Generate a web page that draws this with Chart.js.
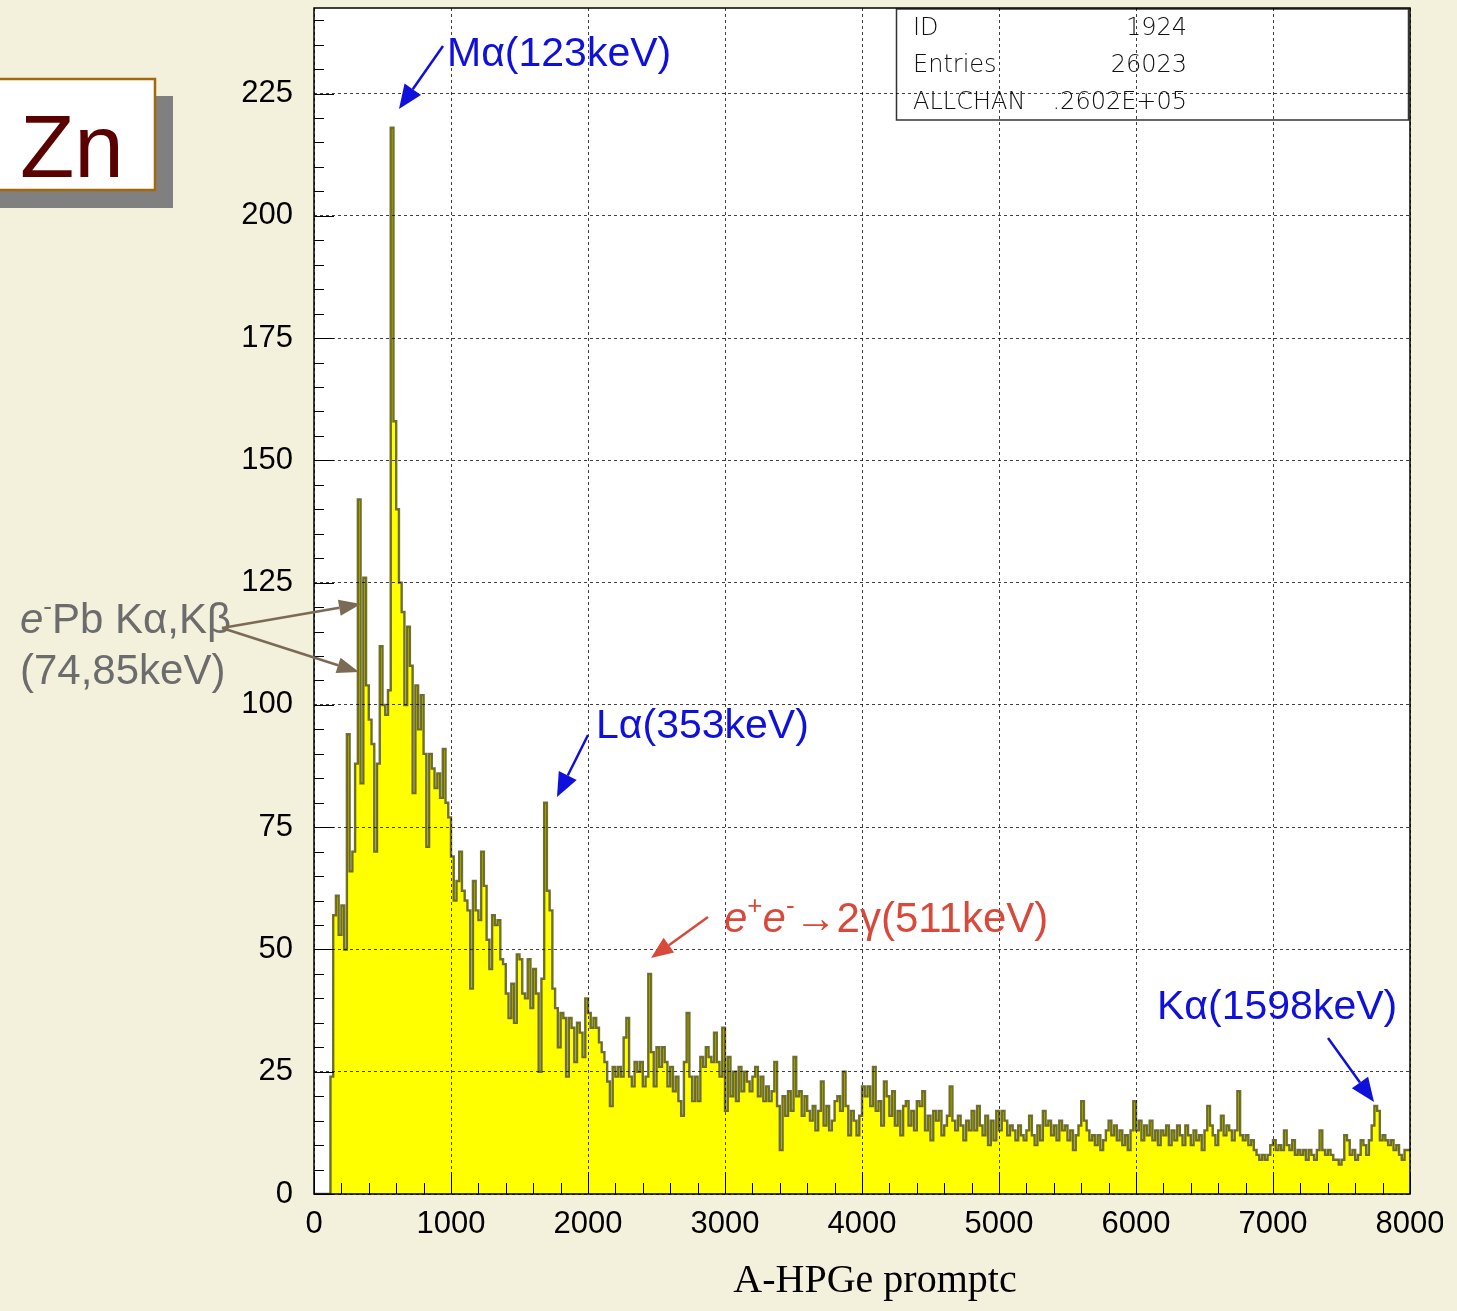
<!DOCTYPE html>
<html>
<head>
<meta charset="utf-8">
<title>Zn - A-HPGe promptc</title>
<script src="https://cdn.jsdelivr.net/npm/chart.js@4.4.1/dist/chart.umd.min.js"></script>
<style>
  html, body { margin: 0; padding: 0; background: #f3f0dc; }
  #wrap { width: 1443px; height: 1311px; overflow: hidden; }
</style>
</head>
<body>
<div id="wrap"><canvas id="spectrum" width="1443" height="1311"></canvas></div>
<script>
// channel axis
const BIN_WIDTH = 20;
const X_MIN = 0, X_MAX = 8000, X_STEP = 1000;
const Y_MIN = 0, Y_MAX = 242.5, Y_STEP = 25;
const X_TITLE = 'A-HPGe promptc';

// counts per 20-channel bin, one row = 200 channels (0 .. 7980)
const counts = [
  0, 0, 0, 0, 0, 0, 0, 24, 57, 61,
  53, 59, 50, 94, 66, 70, 88, 142, 84, 126,
  104, 97, 92, 70, 88, 112, 100, 98, 103, 218,
  158, 140, 125, 119, 100, 116, 108, 82, 104, 95,
  102, 90, 71, 90, 87, 83, 86, 81, 91, 80,
  77, 69, 60, 64, 70, 62, 60, 58, 42, 64,
  58, 56, 70, 63, 52, 46, 57, 55, 56, 48,
  47, 41, 36, 43, 35, 49, 48, 41, 40, 48,
  38, 46, 41, 25, 44, 80, 62, 58, 42, 38,
  30, 37, 36, 24, 36, 34, 27, 35, 33, 28,
  40, 37, 34, 36, 34, 31, 29, 27, 23, 18,
  26, 24, 26, 24, 32, 36, 24, 22, 27, 25,
  27, 22, 24, 45, 29, 22, 30, 26, 30, 27,
  22, 26, 21, 24, 19, 16, 27, 37, 24, 19,
  24, 19, 28, 26, 30, 28, 27, 33, 27, 24,
  34, 17, 28, 20, 25, 19, 26, 21, 25, 23,
  21, 24, 26, 20, 24, 19, 22, 19, 21, 27,
  18, 9, 20, 16, 21, 17, 28, 20, 21, 16,
  20, 17, 15, 18, 13, 17, 23, 14, 18, 13,
  15, 19, 20, 17, 25, 18, 12, 17, 15, 12,
  16, 22, 20, 22, 18, 26, 17, 19, 14, 23,
  20, 16, 21, 14, 17, 12, 18, 19, 14, 17,
  13, 19, 18, 21, 13, 16, 11, 17, 15, 17,
  12, 14, 16, 22, 15, 13, 16, 14, 11, 15,
  13, 17, 13, 18, 14, 12, 16, 10, 15, 11,
  17, 13, 17, 15, 12, 14, 13, 11, 14, 12,
  11, 13, 16, 12, 10, 14, 11, 17, 14, 15,
  12, 14, 11, 15, 13, 14, 11, 13, 9, 12,
  14, 19, 15, 13, 11, 12, 10, 12, 9, 11,
  13, 15, 12, 14, 11, 13, 10, 12, 9, 13,
  19, 13, 15, 11, 14, 12, 15, 11, 13, 10,
  13, 12, 14, 10, 13, 11, 14, 12, 10, 14,
  12, 10, 13, 11, 12, 9, 13, 18, 14, 12,
  10, 13, 16, 12, 14, 13, 11, 13, 21, 12,
  11, 12, 10, 11, 9, 8, 7, 8, 7, 8,
  10, 11, 9, 10, 9, 13, 10, 9, 11, 8,
  9, 8, 9, 7, 9, 8, 7, 9, 13, 9,
  8, 9, 8, 7, 7, 6, 7, 12, 11, 8,
  9, 7, 8, 11, 10, 8, 11, 14, 18, 17,
  11, 12, 11, 10, 11, 9, 10, 8, 7, 9
];

// stats box rows
const statNames = ['ID', 'Entries', 'ALLCHAN'];
const statValues = ['1924', '26023', '.2602E+05'];

// histogram as step points: left edge of every bin, plus closing edge
const histPoints = counts.map((c, i) => ({ x: i * BIN_WIDTH, y: c }));
histPoints.push({ x: counts.length * BIN_WIDTH, y: counts[counts.length - 1] });

const SANS = '"Liberation Sans", Arial, Helvetica, sans-serif';

function arrow(ctx, x1, y1, x2, y2, color, width, head, headW) {
  const ang = Math.atan2(y2 - y1, x2 - x1);
  const bx = x2 - head * Math.cos(ang), by = y2 - head * Math.sin(ang);
  ctx.strokeStyle = color;
  ctx.fillStyle = color;
  ctx.lineWidth = width;
  ctx.beginPath();
  ctx.moveTo(x1, y1);
  ctx.lineTo(bx, by);
  ctx.stroke();
  ctx.beginPath();
  ctx.moveTo(x2, y2);
  ctx.lineTo(bx + headW / 2 * Math.sin(ang), by - headW / 2 * Math.cos(ang));
  ctx.lineTo(bx - headW / 2 * Math.sin(ang), by + headW / 2 * Math.cos(ang));
  ctx.closePath();
  ctx.fill();
}

// text made of runs: plain, italic, superscript
function runs(ctx, parts, x, y, size, color) {
  ctx.fillStyle = color;
  ctx.textBaseline = 'alphabetic';
  ctx.textAlign = 'left';
  for (const p of parts) {
    const s = p.sup ? size * 0.62 : size;
    ctx.font = (p.it ? 'italic ' : '') + s + 'px ' + SANS;
    ctx.fillText(p.t, x, p.sup ? y - size * 0.42 : y);
    x += ctx.measureText(p.t).width;
  }
}

const backdrop = {
  id: 'backdrop',
  beforeDraw(chart) {
    const { ctx, chartArea: a } = chart;
    ctx.save();
    ctx.fillStyle = '#ffffff';
    ctx.fillRect(a.left, a.top, a.right - a.left, a.bottom - a.top);

    // stats box
    ctx.strokeStyle = '#333';
    ctx.lineWidth = 1.5;
    ctx.strokeRect(896.5, a.top + 1, 512, 111);
    ctx.fillStyle = '#111';
    ctx.font = '200 24px "DejaVu Sans", ' + SANS;
    ctx.textBaseline = 'middle';
    statNames.forEach((n, i) => {
      const yy = 29 + i * 37;
      ctx.textAlign = 'left';
      ctx.fillText(n, 913, yy);
      ctx.textAlign = 'right';
      ctx.fillText(statValues[i], 1187, yy);
    });
    ctx.restore();
  },
  afterDatasetsDraw(chart) {
    // inward ticks on both axes
    const { ctx, chartArea: a, scales: { x, y } } = chart;
    ctx.save();
    ctx.strokeStyle = '#000';
    ctx.lineWidth = 1;
    ctx.beginPath();
    for (let v = X_MIN; v <= X_MAX; v += 200) {
      const px = Math.round(x.getPixelForValue(v)) + 0.5;
      const len = v % X_STEP === 0 ? 22 : 11;
      ctx.moveTo(px, a.bottom);
      ctx.lineTo(px, a.bottom - len);
    }
    for (let v = Y_MIN; v <= Y_MAX; v += 5) {
      const py = Math.round(y.getPixelForValue(v)) + 0.5;
      const len = v % Y_STEP === 0 ? 20 : 10;
      ctx.moveTo(a.left, py);
      ctx.lineTo(a.left + len, py);
    }
    ctx.stroke();
    ctx.restore();
  },
  afterDraw(chart) {
    const { ctx, chartArea: a } = chart;
    ctx.save();
    ctx.strokeStyle = '#000';
    ctx.lineWidth = 1.5;
    ctx.strokeRect(a.left, a.top, a.right - a.left, a.bottom - a.top);

    // axis title, set a little right of the plot centre
    ctx.fillStyle = '#000';
    ctx.font = '40px "Liberation Serif", "Times New Roman", serif';
    ctx.textAlign = 'center';
    ctx.textBaseline = 'middle';
    ctx.fillText(X_TITLE, 875, 1281);

    // element tag
    ctx.fillStyle = '#808080';
    ctx.fillRect(-10, 96, 183, 112);
    ctx.fillStyle = '#ffffff';
    ctx.fillRect(-10, 79, 165, 111);
    ctx.strokeStyle = '#a4670c';
    ctx.lineWidth = 2.5;
    ctx.strokeRect(-10, 79, 165, 111);
    ctx.fillStyle = '#5a0000';
    ctx.font = '89px ' + SANS;
    ctx.textAlign = 'left';
    ctx.textBaseline = 'alphabetic';
    ctx.fillText('Zn', 20, 177);

    // peak labels
    const blue = '#1010dc', red = '#d9493b', grey = '#6c6c6c';
    runs(ctx, [{ t: 'M\u03b1(123keV)' }], 447, 66, 41, blue);
    arrow(ctx, 443, 46, 399, 109, blue, 2.5, 24, 20);

    runs(ctx, [{ t: 'L\u03b1(353keV)' }], 596, 738, 41, blue);
    arrow(ctx, 588, 735, 557, 797, blue, 2.5, 24, 20);

    runs(ctx, [{ t: 'e', it: true }, { t: '+', sup: true }, { t: 'e', it: true },
               { t: '-', sup: true }, { t: '\u21922\u03b3(511keV)' }], 724, 932, 42, red);
    arrow(ctx, 708, 917, 651, 958, red, 2.5, 22, 18);

    runs(ctx, [{ t: 'K\u03b1(1598keV)' }], 1157, 1019, 41, blue);
    arrow(ctx, 1328, 1038, 1374, 1102, blue, 2.5, 24, 20);

    runs(ctx, [{ t: 'e', it: true }, { t: '-', sup: true }, { t: 'Pb K\u03b1,K\u03b2' }], 20, 633, 42, grey);
    runs(ctx, [{ t: '(74,85keV)' }], 20, 684, 42, grey);
    arrow(ctx, 222, 628, 361, 604, '#7b6a54', 2.5, 22, 16);
    arrow(ctx, 222, 628, 359, 672, '#7b6a54', 2.5, 22, 16);
    ctx.restore();
  }
};

const gridStyle = {
  color: 'rgba(0,0,0,0.75)',
  lineWidth: 1,
  drawTicks: false,
  z: 1
};

new Chart(document.getElementById('spectrum'), {
  type: 'line',
  data: {
    datasets: [{
      label: X_TITLE,
      data: histPoints,
      stepped: 'after',
      fill: 'origin',
      backgroundColor: '#ffff00',
      borderColor: 'rgba(55,55,0,0.72)',
      borderWidth: 2.4,
      pointRadius: 0,
      tension: 0
    }]
  },
  options: {
    responsive: false,
    animation: false,
    devicePixelRatio: 1,
    layout: { padding: { top: 8, right: 33, left: 0, bottom: 0 } },
    plugins: { legend: { display: false }, tooltip: { enabled: false } },
    scales: {
      x: {
        type: 'linear',
        min: X_MIN,
        max: X_MAX,
        grid: gridStyle,
        border: { display: false, dash: [3, 3] },
        ticks: {
          stepSize: X_STEP,
          padding: 12,
          color: '#000',
          font: { family: SANS, size: 31 },
          maxRotation: 0,
          autoSkip: false,
          callback: v => String(v)
        },
        afterFit: s => {
          s.height = 117;
          s.paddingLeft = 0;
          s.paddingRight = 0;
        }
      },
      y: {
        min: Y_MIN,
        max: Y_MAX,
        grid: gridStyle,
        border: { display: false, dash: [3, 3] },
        ticks: {
          stepSize: Y_STEP,
          includeBounds: false,
          padding: 21,
          color: '#000',
          font: { family: SANS, size: 31 }
        },
        afterFit: s => {
          s.width = 314;
          s.paddingTop = 0;
          s.paddingBottom = 0;
        }
      }
    }
  },
  plugins: [backdrop]
});
</script>
</body>
</html>
